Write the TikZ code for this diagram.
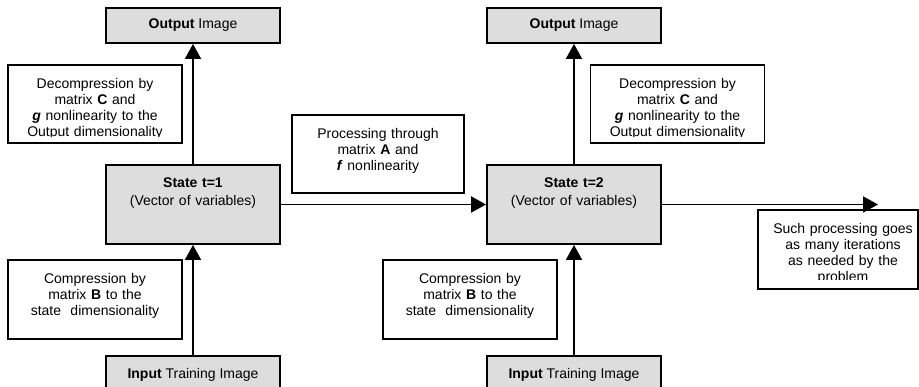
\documentclass[tikz,border=0pt]{standalone}
\usepackage{fontspec}
\setmainfont{Liberation Sans}
\usetikzlibrary{arrows.meta}
\definecolor{boxgray}{HTML}{DDDDDD}

\begin{document}
\begin{tikzpicture}[x=1pt,y=-1pt,
    frame/.style={draw,line width=1.9pt,inner sep=0pt,minimum width=174pt,
      font=\fontsize{14}{16}\selectfont},
    graybox/.style={frame,fill=boxgray},
    whitebox/.style={frame,fill=white},
    boxtext/.style={anchor=north,inner sep=0pt,align=center,text width=168pt,
      text height=10pt,font=\fontsize{14}{16}\selectfont},
    flow/.style={line width=1.9pt,-{Triangle[width=16pt,length=15pt]}}]
  \useasboundingbox (0,0) rectangle (919,387);
  \clip (0,0) rectangle (919,387);

  \node[graybox,minimum height=35pt] (out1) at (193,25.5) {\textbf{Output} Image};
  \node[graybox,minimum height=35pt] (out2) at (574,25.5) {\textbf{Output} Image};

  \node[whitebox,minimum height=78pt] (dec1) at (95,104) {};
  \begin{scope}
    \clip ([yshift=7.5pt]dec1.south west) rectangle (dec1.north east);
    \node[boxtext] (dec1text) at ([yshift=-14pt]dec1.north)
      {Decompression by\\ matrix \textbf{C} and\\ \textbf{\textit{g}} nonlinearity to the\\ Output dimensionality};
  \end{scope}
  \node[whitebox,minimum height=78pt] (dec2) at (677.5,104) {};
  \begin{scope}
    \clip ([yshift=7.5pt]dec2.south west) rectangle (dec2.north east);
    \node[boxtext] (dec2text) at ([yshift=-14pt]dec2.north)
      {Decompression by\\ matrix \textbf{C} and\\ \textbf{\textit{g}} nonlinearity to the\\ Output dimensionality};
  \end{scope}

  \node[whitebox,minimum width=172pt,minimum height=78pt] (proc) at (378,154) {};
  \node[boxtext] (proctext) at ([yshift=-14pt]proc.north)
    {Processing through\\ matrix \textbf{A} and\\ \textbf{\textit{f}} nonlinearity};

  \node[graybox,minimum height=79pt] (state1) at (193,204.5) {};
  \node[boxtext] (state1text) at ([yshift=-13pt]state1.north)
    {\textbf{State t=1}\\[2pt] (Vector of variables)};
  \node[graybox,minimum height=79pt] (state2) at (574,204.5) {};
  \node[boxtext] (state2text) at ([yshift=-13pt]state2.north)
    {\textbf{State t=2}\\[2pt] (Vector of variables)};

  \node[whitebox,minimum width=160pt,minimum height=79pt] (iter) at (838,249.5) {};
  \begin{scope}
    \clip ([yshift=10pt]iter.south west) rectangle (iter.north east);
    \node[boxtext,text width=156pt] (itertext) at ([xshift=5pt,yshift=-14pt]iter.north)
      {Such processing goes\\ as many iterations\\ as needed by the\\ problem};
  \end{scope}
  \coordinate (iterend) at (878,204.5);

  \node[whitebox,minimum height=79pt] (comp1) at (95,299.5) {};
  \node[boxtext] (comp1text) at ([yshift=-14pt]comp1.north)
    {Compression by\\ matrix \textbf{B} to the\\ state\ \ dimensionality};
  \node[whitebox,minimum height=79pt] (comp2) at (470,299.5) {};
  \node[boxtext] (comp2text) at ([yshift=-14pt]comp2.north)
    {Compression by\\ matrix \textbf{B} to the\\ state\ \ dimensionality};

  \node[graybox,minimum height=38pt] (in1) at (193,375) {\textbf{Input} Training Image};
  \node[graybox,minimum height=38pt] (in2) at (574,375) {\textbf{Input} Training Image};

  \draw[flow] (in1) -- (state1);
  \draw[flow] (in2) -- (state2);
  \draw[flow] (state1) -- (out1);
  \draw[flow] (state2) -- (out2);
  \draw[flow] (state1) -- (state2);
  \draw[flow] (state2.east) -- (iterend);
\end{tikzpicture}
\end{document}
